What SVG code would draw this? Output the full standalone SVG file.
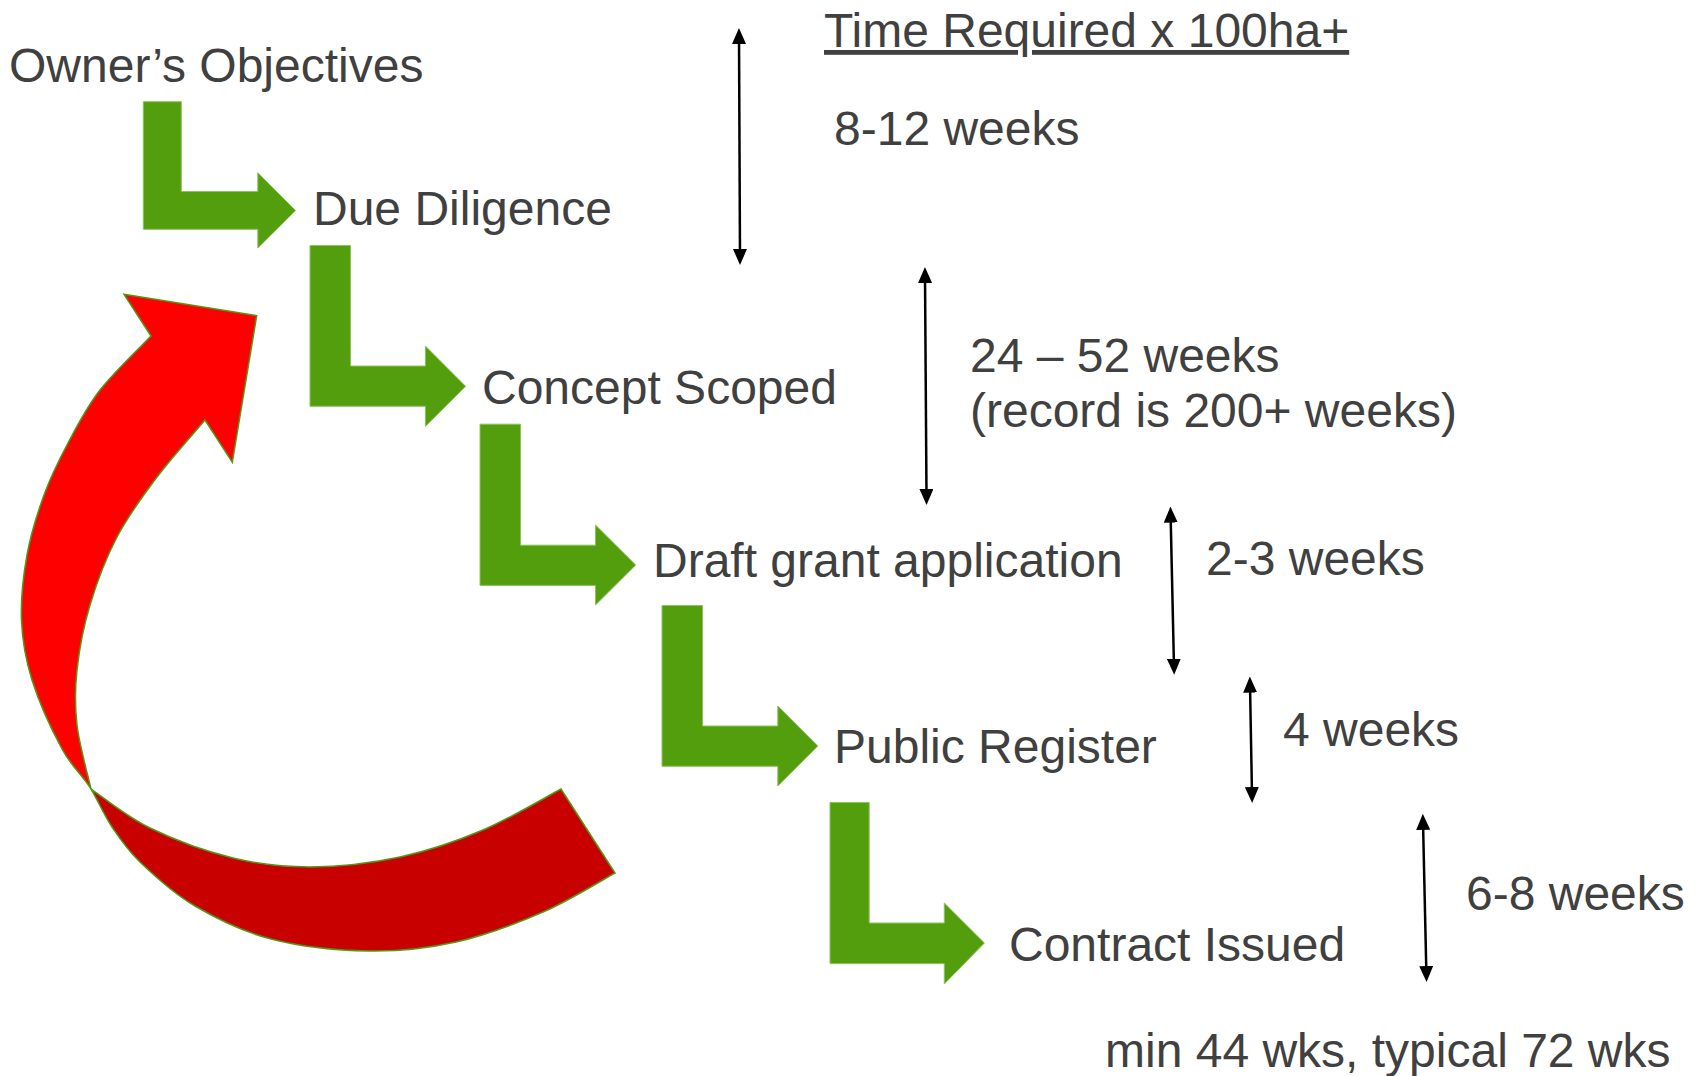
<svg xmlns="http://www.w3.org/2000/svg" width="1702" height="1076" viewBox="0 0 1702 1076">
  <style>
    .lbl { font-family: "Liberation Sans", Arial, sans-serif; font-size: 48px; fill: #404040; }
    .step { fill: #529E0C; stroke: #8CC25E; stroke-width: 1; }
    .dur { stroke: #000; stroke-width: 2.5; fill: none; marker-start: url(#ah); marker-end: url(#ah); }
    .loop-front { fill: #FF0000; stroke: #4F9A12; stroke-width: 1.5; stroke-linejoin: miter; }
    .loop-back { fill: #C80000; stroke: #4F9A12; stroke-width: 1.5; }
  </style>
  <defs>
    <marker id="ah" viewBox="0 0 16 14" refX="8" refY="7" markerWidth="16" markerHeight="14" markerUnits="userSpaceOnUse" orient="auto-start-reverse">
      <path d="M0,0 L16,7 L0,14 Z" fill="#000"/>
    </marker>
  </defs>
  <rect width="1702" height="1076" fill="#fff"/>

  <!-- feedback loop: curved red arrow returning to Due Diligence -->
  <g id="loop">
    <path class="loop-back" d="M91,789 C100.8,795.5 126.3,816.5 150,828 C173.7,839.5 206.3,851.5 233,858 C259.7,864.5 282.2,866.8 310,867 C337.8,866.8 371.2,863.2 400,857 C428.8,850.8 456.2,841.3 483,830 C509.8,818.7 548,795.8 561,789 L615,873 C603,879.5 569.5,900.5 543,912 C516.5,923.5 485,935.5 456,942 C427,948.5 399.8,951.5 369,951 C338.2,950.5 300,946.5 271,939 C242,931.5 216.7,918.7 195,906 C173.3,893.3 154.8,876.2 141,863 C127.2,849.8 120.3,839.3 112,827 C103.7,814.7 97.5,799.5 91,789 Z"/>
    <path class="loop-front" d="M151,336 L124,294.3 L256.7,315.7 L232.3,462.3 L205,420 C197,429.5 171.7,457.5 157,477 C142.3,496.5 128.2,515.7 117,537 C105.8,558.3 96.7,582.8 90,605 C83.3,627.2 79.2,650 77,670 C74.8,690 74.7,705.2 77,725 C79.3,744.8 88.7,778.3 91,789 C82,774.5 71.8,767.2 62,749 C52.2,730.8 38.75,701.5 32,680 C25.25,658.5 22.3,640.8 21.5,620 C20.7,599.2 23.25,575.8 27,555 C30.75,534.2 37.2,513.7 44,495 C50.8,476.3 58.7,460.5 68,443 C77.3,425.5 86.2,407.8 100,390 C113.8,372.2 142.5,345 151,336 Z"/>
  </g>

  <!-- process steps: L-shaped green arrows -->
  <g id="step-1">
    <polygon class="step" points="143.3,101.7 181.3,101.7 181.3,191.5 257.8,191.5 257.8,172.7 295.6,210.5 257.8,248 257.8,229.3 143.3,229.3"/>
  </g>
  <g id="step-2">
    <polygon class="step" points="310,245.5 350.5,245.5 350.5,366 425.4,366 425.4,346 465.6,386.3 425.4,426.4 425.4,406.3 310,406.3"/>
  </g>
  <g id="step-3">
    <polygon class="step" points="480,424.2 520.5,424.2 520.5,545.2 595.5,545.2 595.5,525 635.7,565 595.5,605 595.5,585.4 480,585.4"/>
  </g>
  <g id="step-4">
    <polygon class="step" points="662,605.5 702.6,605.5 702.6,726 777.8,726 777.8,706 817.8,746 777.8,786 777.8,766.3 662,766.3"/>
  </g>
  <g id="step-5">
    <polygon class="step" points="830,802.4 869.2,802.4 869.2,923 944.3,923 944.3,903 984.4,943 944.3,984 944.3,963.6 830,963.6"/>
  </g>

  <!-- stage labels -->
  <g id="owners-objectives"><text class="lbl" x="9" y="82">Owner’s Objectives</text></g>
  <g id="due-diligence"><text class="lbl" x="313" y="225">Due Diligence</text></g>
  <g id="concept-scoped"><text class="lbl" x="482" y="404">Concept Scoped</text></g>
  <g id="draft-grant"><text class="lbl" x="653" y="577">Draft grant application</text></g>
  <g id="public-register"><text class="lbl" x="834" y="763">Public Register</text></g>
  <g id="contract-issued"><text class="lbl" x="1009" y="961">Contract Issued</text></g>

  <!-- timing column -->
  <g id="time-heading"><text class="lbl" x="824" y="47" text-decoration="underline">Time Required x 100ha+</text></g>
  <g id="t-8-12"><text class="lbl" x="834" y="145">8-12 weeks</text></g>
  <g id="t-24-52">
    <text class="lbl" x="970" y="372">24 – 52 weeks</text>
    <text class="lbl" x="970" y="427">(record is 200+ weeks)</text>
  </g>
  <g id="t-2-3"><text class="lbl" x="1206" y="575">2-3 weeks</text></g>
  <g id="t-4"><text class="lbl" x="1283" y="746">4 weeks</text></g>
  <g id="t-6-8"><text class="lbl" x="1466" y="910">6-8 weeks</text></g>
  <g id="t-total"><text class="lbl" x="1105" y="1067">min 44 wks, typical 72 wks</text></g>

  <!-- duration spans -->
  <g id="connectors">
    <line class="dur" x1="739" y1="36" x2="740" y2="257"/>
    <line class="dur" x1="925" y1="275" x2="926.5" y2="497"/>
    <line class="dur" x1="1170.6" y1="514.6" x2="1174" y2="666.7"/>
    <line class="dur" x1="1250" y1="684.6" x2="1252" y2="795"/>
    <line class="dur" x1="1423" y1="821.8" x2="1426.4" y2="974"/>
  </g>
</svg>
